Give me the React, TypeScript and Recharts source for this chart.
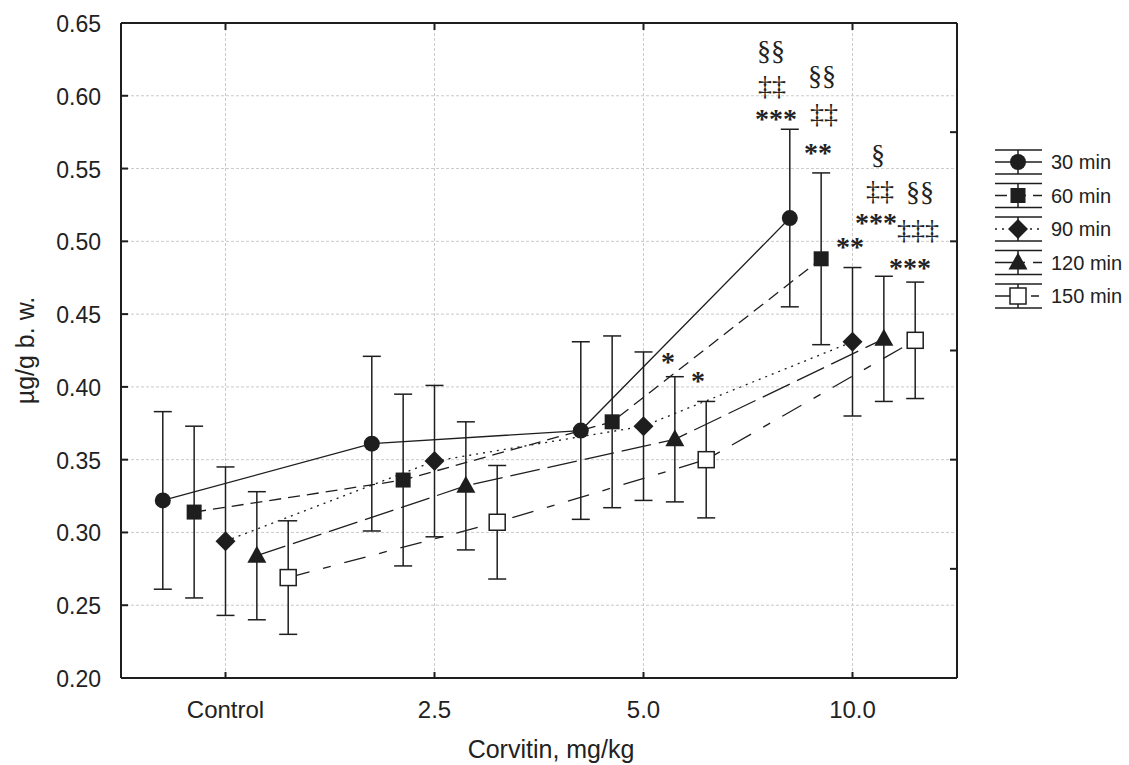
import React from 'react';
import { ComposedChart, Line, Scatter, XAxis, YAxis, CartesianGrid, ErrorBar } from 'recharts';

// dose groups on the x axis (index = position), series offset inside a group
const categories = ['Control', '2.5', '5.0', '10.0'];
const seriesNames = ['30 min', '60 min', '90 min', '120 min', '150 min'];
const groupOffsets = [-0.3, -0.15, 0, 0.15, 0.3];

// means and error (±) per dose
const mean30 = [0.322, 0.361, 0.370, 0.516];
const err30 = [0.061, 0.060, 0.061, 0.061];
const mean60 = [0.314, 0.336, 0.376, 0.488];
const err60 = [0.059, 0.059, 0.059, 0.059];
const mean90 = [0.294, 0.349, 0.373, 0.431];
const err90 = [0.051, 0.052, 0.051, 0.051];
const mean120 = [0.284, 0.332, 0.364, 0.433];
const err120 = [0.044, 0.044, 0.043, 0.043];
const mean150 = [0.269, 0.307, 0.350, 0.432];
const err150 = [0.039, 0.039, 0.040, 0.040];

const yTicks = [0.2, 0.25, 0.3, 0.35, 0.4, 0.45, 0.5, 0.55, 0.6, 0.65];
const rightTicks = [0.2, 0.275, 0.35, 0.425, 0.5, 0.575, 0.65];
const xTicks = [0, 1, 2, 3];

// significance marks (x in group units, y in axis units)
const annotations = [
    { x: 2.61, y: 0.631, text: '§§' },
    { x: 2.615, y: 0.607, text: '‡‡' },
    { x: 2.634, y: 0.587, text: '***' },
    { x: 2.854, y: 0.614, text: '§§' },
    { x: 2.864, y: 0.588, text: '‡‡' },
    { x: 2.835, y: 0.564, text: '**' },
    { x: 3.122, y: 0.560, text: '§' },
    { x: 3.132, y: 0.535, text: '‡‡' },
    { x: 3.112, y: 0.516, text: '***' },
    { x: 2.988, y: 0.499, text: '**' },
    { x: 3.323, y: 0.534, text: '§§' },
    { x: 3.313, y: 0.508, text: '‡‡‡' },
    { x: 3.275, y: 0.485, text: '***' },
    { x: 2.117, y: 0.420, text: '*' },
    { x: 2.261, y: 0.407, text: '*' },
];

const means = [mean30, mean60, mean90, mean120, mean150];
const errs = [err30, err60, err90, err120, err150];
const markerKinds = ['circle', 'square', 'diamond', 'triangle', 'open'];
const dashes = ['', '12 7', '2 5', '30 8', '22 14 8 14'];

const INK = '#1e1e1e';
const FONT = '"Liberation Sans", Arial, sans-serif';

const seriesData = means.map((m, s) =>
    m.map((v, i) => ({ x: i + groupOffsets[s], y: v, err: errs[s][i] }))
);

function Marker({ cx, cy, kind }: { cx: number; cy: number; kind: string }) {
    switch (kind) {
        case 'circle':
            return <circle cx={cx} cy={cy} r={8} fill={INK} />;
        case 'square':
            return <rect x={cx - 7.5} y={cy - 7.5} width={15} height={15} fill={INK} />;
        case 'diamond':
            return <polygon points={`${cx},${cy - 10} ${cx + 10},${cy} ${cx},${cy + 10} ${cx - 10},${cy}`} fill={INK} />;
        case 'triangle':
            return <polygon points={`${cx},${cy - 10} ${cx + 9.5},${cy + 7} ${cx - 9.5},${cy + 7}`} fill={INK} />;
        default:
            return <rect x={cx - 8} y={cy - 8} width={16} height={16} fill="#fff" stroke={INK} strokeWidth={1.5} />;
    }
}

const LeftTick = (p: any) => (
    <g>
        <line x1={p.x + 20} x2={p.x + 27} y1={p.y} y2={p.y} stroke={INK} strokeWidth={2} />
        <text x={p.x} y={p.y + 1} textAnchor="end" dominantBaseline="central" fontSize={23} fontFamily={FONT} fill="#222">
            {Number(p.payload.value).toFixed(2)}
        </text>
    </g>
);

const BottomTick = (p: any) => (
    <g>
        <line x1={p.x} x2={p.x} y1={p.y - 31} y2={p.y - 37} stroke={INK} strokeWidth={2} />
        <text x={p.x} y={p.y} textAnchor="middle" dominantBaseline="central" fontSize={24} fontFamily={FONT} fill="#222">
            {categories[p.payload.value]}
        </text>
    </g>
);

const TopTick = (p: any) => (
    <line x1={p.x} x2={p.x} y1={p.y} y2={p.y + 7} stroke={INK} strokeWidth={2} />
);

const RightTick = (p: any) => (
    <line x1={p.x} x2={p.x - 7} y1={p.y} y2={p.y} stroke={INK} strokeWidth={2} />
);

const renderAnnotation = (p: any) => {
    const t: string = p.payload.text;
    const star = t.startsWith('*');
    return (
        <text x={p.cx} y={p.cy} dy={star ? 4 : 0} textAnchor="middle" dominantBaseline="central"
            fontSize={28} fontWeight={star ? 700 : 400}
            fontFamily='"Liberation Serif", "Times New Roman", serif' fill="#222">
            {t}
        </text>
    );
};

function Legend() {
    return (
        <svg width={149} height={200} style={{ position: 'absolute', left: 980, top: 130 }}>
            {seriesNames.map((name, i) => {
                const cy = 32 + 33.5 * i;
                return (
                    <g key={name}>
                        <line x1={15} x2={62} y1={cy - 12} y2={cy - 12} stroke={INK} strokeWidth={1.5} />
                        <line x1={15} x2={62} y1={cy + 12} y2={cy + 12} stroke={INK} strokeWidth={1.5} />
                        <line x1={38} x2={38} y1={cy - 12} y2={cy + 12} stroke={INK} strokeWidth={1.5} />
                        <line x1={15} x2={62} y1={cy} y2={cy} stroke={INK} strokeWidth={1.5} strokeDasharray={dashes[i]} />
                        <Marker cx={38} cy={cy} kind={markerKinds[i]} />
                        <text x={71} y={cy} dominantBaseline="central" fontSize={20} fontFamily={FONT} fill="#222">{name}</text>
                    </g>
                );
            })}
        </svg>
    );
}

export default function App() {
    return (
        <div style={{ position: 'absolute', left: 0, top: 0, width: 1129, height: 765, background: '#fff' }}>
            <ComposedChart width={1129} height={765} margin={{ top: 22, right: 171, bottom: 0, left: 0 }}>
                <CartesianGrid xAxisId="bottom" yAxisId="left" stroke="#cacaca" strokeDasharray="3 2" />
                <XAxis
                    xAxisId="bottom"
                    type="number"
                    dataKey="x"
                    domain={[-0.5, 3.5]}
                    allowDataOverflow
                    ticks={xTicks}
                    interval={0}
                    height={87}
                    axisLine={{ stroke: INK, strokeWidth: 2 }}
                    tickLine={false}
                    tickSize={0}
                    tickMargin={31}
                    tick={BottomTick}
                    label={(lp: any) => {
                        const vb = lp.viewBox;
                        return (
                            <text x={vb.x + vb.width / 2 + 12} y={vb.y + 71} textAnchor="middle" dominantBaseline="central"
                                fontSize={25} fontFamily={FONT} fill="#222">
                                Corvitin, mg/kg
                            </text>
                        );
                    }}
                />
                <XAxis
                    xAxisId="top"
                    orientation="top"
                    type="number"
                    dataKey="x"
                    domain={[-0.5, 3.5]}
                    allowDataOverflow
                    ticks={xTicks}
                    interval={0}
                    height={1}
                    axisLine={{ stroke: INK, strokeWidth: 2 }}
                    tickLine={false}
                    tickSize={0}
                    tickMargin={0}
                    tick={TopTick}
                />
                <YAxis
                    yAxisId="left"
                    type="number"
                    dataKey="y"
                    domain={[0.2, 0.65]}
                    allowDataOverflow
                    ticks={yTicks}
                    interval={0}
                    width={121}
                    axisLine={{ stroke: INK, strokeWidth: 2 }}
                    tickLine={false}
                    tickSize={0}
                    tickMargin={20}
                    tick={LeftTick}
                    label={(lp: any) => {
                        const vb = lp.viewBox;
                        const cx = vb.x + 25;
                        const cy = vb.y + vb.height / 2;
                        return (
                            <text x={cx} y={cy} transform={`rotate(-90 ${cx} ${cy})`} textAnchor="middle" dominantBaseline="central"
                                fontSize={25} fontFamily={FONT} fill="#222">
                                µg/g b. w.
                            </text>
                        );
                    }}
                />
                <YAxis
                    yAxisId="right"
                    orientation="right"
                    type="number"
                    domain={[0.2, 0.65]}
                    allowDataOverflow
                    ticks={rightTicks}
                    interval={0}
                    width={1}
                    axisLine={{ stroke: INK, strokeWidth: 2 }}
                    tickLine={false}
                    tickSize={0}
                    tickMargin={0}
                    tick={RightTick}
                />

                {seriesData.map((d, s) => (
                    <Line
                        key={seriesNames[s]}
                        xAxisId="bottom"
                        yAxisId="left"
                        data={d}
                        dataKey="y"
                        type="linear"
                        stroke={INK}
                        strokeWidth={1.3}
                        strokeDasharray={dashes[s] || undefined}
                        isAnimationActive={false}
                        activeDot={false}
                        dot={(p: any) => <Marker key={`m-${s}-${p.index}`} cx={p.cx} cy={p.cy} kind={markerKinds[s]} />}
                    >
                        <ErrorBar dataKey="err" direction="y" width={9} stroke={INK} strokeWidth={1.5} />
                    </Line>
                ))}

                <Scatter
                    xAxisId="bottom"
                    yAxisId="left"
                    data={annotations}
                    isAnimationActive={false}
                    shape={renderAnnotation}
                />
            </ComposedChart>
            <Legend />
        </div>
    );
}
